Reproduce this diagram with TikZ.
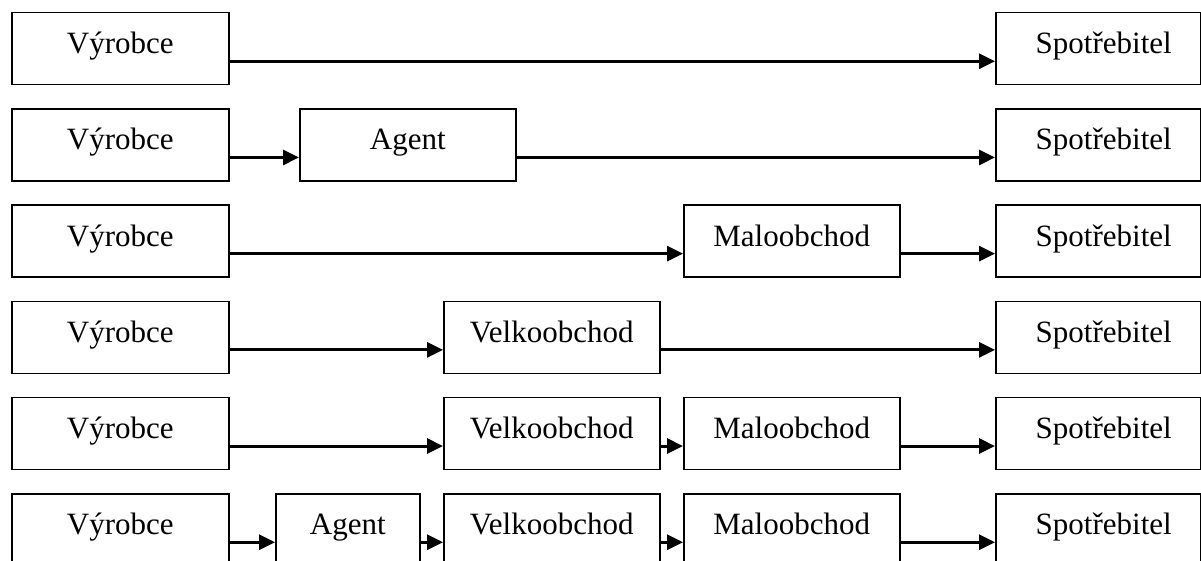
\documentclass[tikz,border=0pt]{standalone}
\usepackage{fontspec}
\setmainfont{Liberation Serif}
\usetikzlibrary{arrows.meta}
\begin{document}
\begin{tikzpicture}[x=1pt,y=-1pt,
  box/.style={draw, line width=1.5pt, inner sep=0pt, anchor=north west,
    minimum width=216pt, text height=41pt, text depth=31pt,
    font=\fontsize{31}{37}\selectfont},
  endbox/.style={box, minimum width=205pt},
  flow/.style={line width=3pt, -{Triangle[length=16pt,width=15pt]}},
  lo/.style={yshift=-12.5pt}]
\clip (0,0) rectangle (1201,561);

% row 1: producer -> consumer
\node[box, minimum width=217pt] (v1) at (11,12) {Výrobce};
\node[endbox] (s1) at (995,12) {\hspace*{11pt}Spotřebitel};
\draw[flow] ([lo]v1.east) -- ([lo]s1.west);

% row 2: via agent
\node[box, minimum width=217pt] (v2) at (11,108.2) {Výrobce};
\node[box] (a2) at (299,108.2) {Agent};
\node[endbox] (s2) at (995,108.2) {\hspace*{11pt}Spotřebitel};
\draw[flow] ([lo]v2.east) -- ([lo]a2.west);
\draw[flow] ([lo]a2.east) -- ([lo]s2.west);

% row 3: via retail
\node[box, minimum width=217pt] (v3) at (11,204.4) {Výrobce};
\node[box] (m3) at (683,204.4) {Maloobchod};
\node[endbox] (s3) at (995,204.4) {\hspace*{11pt}Spotřebitel};
\draw[flow] ([lo]v3.east) -- ([lo]m3.west);
\draw[flow] ([lo]m3.east) -- ([lo]s3.west);

% row 4: via wholesale
\node[box, minimum width=217pt] (v4) at (11,300.6) {Výrobce};
\node[box] (w4) at (443,300.6) {Velkoobchod};
\node[endbox] (s4) at (995,300.6) {\hspace*{11pt}Spotřebitel};
\draw[flow] ([lo]v4.east) -- ([lo]w4.west);
\draw[flow] ([lo]w4.east) -- ([lo]s4.west);

% row 5: via wholesale and retail
\node[box, minimum width=217pt] (v5) at (11,396.8) {Výrobce};
\node[box] (w5) at (443,396.8) {Velkoobchod};
\node[box] (m5) at (683,396.8) {Maloobchod};
\node[endbox] (s5) at (995,396.8) {\hspace*{11pt}Spotřebitel};
\draw[flow] ([lo]v5.east) -- ([lo]w5.west);
\draw[flow] ([lo]w5.east) -- ([lo]m5.west);
\draw[flow] ([lo]m5.east) -- ([lo]s5.west);

% row 6: full chain
\node[box, minimum width=217pt] (v6) at (11,493) {Výrobce};
\node[box, minimum width=144pt] (a6) at (275,493) {Agent};
\node[box] (w6) at (443,493) {Velkoobchod};
\node[box] (m6) at (683,493) {Maloobchod};
\node[endbox] (s6) at (995,493) {\hspace*{11pt}Spotřebitel};
\draw[flow] ([lo]v6.east) -- ([lo]a6.west);
\draw[flow] ([lo]a6.east) -- ([lo]w6.west);
\draw[flow] ([lo]w6.east) -- ([lo]m6.west);
\draw[flow] ([lo]m6.east) -- ([lo]s6.west);
\end{tikzpicture}
\end{document}
